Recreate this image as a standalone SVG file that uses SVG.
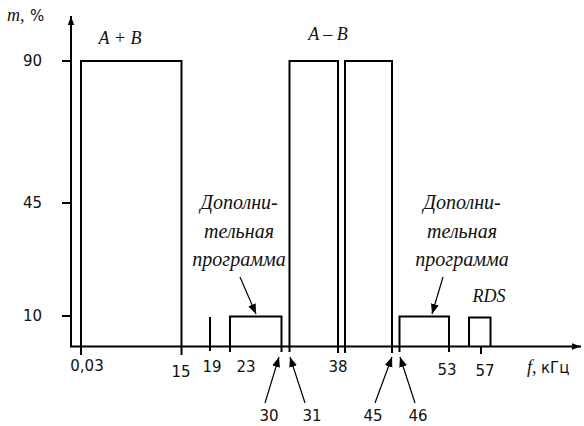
<svg xmlns="http://www.w3.org/2000/svg" width="584" height="426" viewBox="0 0 584 426">
<style>
.l{fill:none;stroke:#000;stroke-width:2;stroke-linecap:butt}
.a{fill:none;stroke:#000;stroke-width:1.2}
.t{font-family:"DejaVu Sans","Liberation Sans",sans-serif;font-size:15px;fill:#111}
.i{font-family:"Liberation Serif","DejaVu Serif",serif;font-style:oblique;font-size:18px;fill:#111}
.s{font-family:"Liberation Serif","DejaVu Serif",serif;font-style:oblique;font-size:20px;fill:#111}
</style>
<defs>
<marker id="ah" viewBox="0 0 10 10" refX="10" refY="5" markerWidth="10" markerHeight="10" markerUnits="userSpaceOnUse" orient="auto"><path d="M0,1 L10,5 L0,9 Z" fill="#000"/></marker>
<marker id="ax" viewBox="0 0 10 10" refX="10" refY="5" markerWidth="9" markerHeight="9" markerUnits="userSpaceOnUse" orient="auto"><path d="M0,1.5 L10,5 L0,8.5 Z" fill="#000"/></marker>
</defs>
<rect width="584" height="426" fill="#fff"/>
<g id="axes">
<line class="l" x1="71" y1="346.5" x2="71" y2="16" marker-end="url(#ax)"/>
<line class="l" x1="70" y1="346.5" x2="581" y2="346.5" marker-end="url(#ax)"/>
<line class="l" x1="62" y1="61" x2="71" y2="61"/>
<line class="l" x1="62" y1="203" x2="71" y2="203"/>
<line class="l" x1="62" y1="316" x2="71" y2="316"/>
<text class="i" x="7" y="21">m,</text><text class="t" x="30" y="21">%</text>
<text class="t" x="42" y="66" text-anchor="end">90</text>
<text class="t" x="42" y="208" text-anchor="end">45</text>
<text class="t" x="42" y="321" text-anchor="end">10</text>
<text class="i" x="527" y="373">f,</text><text class="t" x="541" y="373">кГц</text>
</g>
<g id="band-AB">
<polyline class="l" points="81,355 81,61 181.5,61 181.5,355"/>
<text class="i" x="120" y="44" text-anchor="middle">A + B</text>
</g>
<g id="pilot-19">
<line class="l" x1="210" y1="317" x2="210" y2="351"/>
</g>
<g id="band-dop1">
<polyline class="l" points="230,352 230,316.5 281.5,316.5 281.5,352"/>
</g>
<g id="band-AminusB">
<polyline class="l" points="289.5,352 289.5,61 338,61 338,353"/>
<polyline class="l" points="345,353 345,61 392,61 392,353"/>
<text class="i" x="328" y="40" text-anchor="middle">A – B</text>
</g>
<g id="band-dop2">
<polyline class="l" points="399.5,352 399.5,316.5 449,316.5 449,352"/>
</g>
<g id="band-rds">
<polyline class="l" points="469,346.5 469,317.5 490.5,317.5 490.5,346.5"/>
<line class="l" x1="481" y1="346" x2="481" y2="354"/>
<text class="i" x="489" y="302" text-anchor="middle">RDS</text>
</g>
<g id="ticklabels">
<text class="t" x="87" y="371" text-anchor="middle">0,03</text>
<text class="t" x="181" y="377" text-anchor="middle">15</text>
<text class="t" x="212" y="372" text-anchor="middle">19</text>
<text class="t" x="246" y="372" text-anchor="middle">23</text>
<text class="t" x="338" y="372" text-anchor="middle">38</text>
<text class="t" x="447" y="375" text-anchor="middle">53</text>
<text class="t" x="485" y="376" text-anchor="middle">57</text>
<text class="t" x="269" y="421" text-anchor="middle">30</text>
<text class="t" x="312" y="421" text-anchor="middle">31</text>
<text class="t" x="373" y="421" text-anchor="middle">45</text>
<text class="t" x="418" y="421" text-anchor="middle">46</text>
</g>
<g id="labels-dop">
<text class="s" x="239" y="209" text-anchor="middle">Дополни-</text>
<text class="s" x="239" y="238" text-anchor="middle">тельная</text>
<text class="s" x="239" y="266" text-anchor="middle">программа</text>
<text class="s" x="462" y="209" text-anchor="middle">Дополни-</text>
<text class="s" x="462" y="238" text-anchor="middle">тельная</text>
<text class="s" x="462" y="266" text-anchor="middle">программа</text>
</g>
<g id="connectors">
<line class="a" x1="240" y1="277" x2="256" y2="314" marker-end="url(#ah)"/>
<line class="a" x1="443" y1="277" x2="432" y2="314" marker-end="url(#ah)"/>
<line class="a" x1="265" y1="403" x2="279" y2="357" marker-end="url(#ah)"/>
<line class="a" x1="305" y1="403" x2="290" y2="357" marker-end="url(#ah)"/>
<line class="a" x1="375" y1="403" x2="392" y2="357" marker-end="url(#ah)"/>
<line class="a" x1="415" y1="403" x2="400" y2="357" marker-end="url(#ah)"/>
</g>
</svg>
